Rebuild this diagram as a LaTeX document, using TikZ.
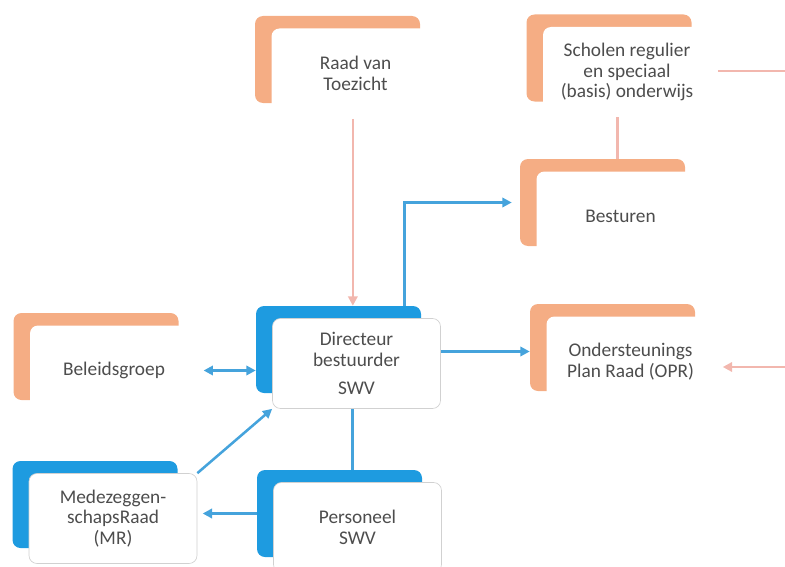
\documentclass[tikz,border=0pt]{standalone}
\usepackage{fontspec}
\setmainfont{Carlito}
\usetikzlibrary{arrows.meta}
\usetikzlibrary{calc}

\definecolor{salmon}{HTML}{F5AD84}
\definecolor{swvblue}{HTML}{1E9BE0}
\definecolor{lineblue}{HTML}{45A3DC}
\definecolor{linepink}{HTML}{F2B7AE}
\definecolor{txtgray}{HTML}{4D4D4D}

\tikzset{
  back/.style={rounded corners=6pt, minimum width=123.75pt, minimum height=65.25pt, inner sep=0pt},
  front/.style={fill=white, rounded corners=6pt, minimum width=126pt, minimum height=67.5pt,
    inner sep=2pt, align=center, text=txtgray, font=\fontsize{14.5}{15.5}\selectfont},
  oback/.style={back, fill=salmon},
  bback/.style={back, fill=swvblue},
  bfront/.style={front, draw=black!18, line width=0.5pt},
  bline/.style={draw=lineblue, line width=1.9pt},
  oline/.style={draw=linepink, line width=1.9pt},
  tip/.style={-{Triangle[length=7pt,width=7pt]}}
}

\begin{document}
\begin{tikzpicture}[x=0.75pt, y=-0.75pt]
            \useasboundingbox (0,0) rectangle (785,567);
            % back plates
            \node[oback] (raadB) at (337.5,59.5) {};
            \node[oback] (scholB) at (609,58) {};
            \node[oback] (bestB) at (602.5,202.5) {};
            \node[bback] (dirB) at (338.5,349.5) {};
            \node[oback] (belB) at (96,356.5) {};
            \node[oback] (oprB) at (612.5,347.5) {};
            \node[bback] (mrB) at (95,504.5) {};
            \node[bback] (persB) at (339.5,513.5) {};
            % text boxes
            \node[front] (raad) at (355.5,73.5) {Raad van\\ Toezicht};
            \node[front] (schol) at (627,72) {Scholen regulier\\ en speciaal\\ (basis) onderwijs};
            \node[front] (best) at (620.5,216.5) {Besturen};
            \node[bfront] (dir) at (356.5,363.5) {Directeur\\ bestuurder\\[6pt] SWV};
            \node[front] (bel) at (114,370.5) {Beleidsgroep};
            \node[front] (opr) at (630.5,361.5) {Ondersteunings\\ Plan Raad (OPR)};
            \node[bfront] (mr) at (113,518.5) {Medezeggen-\\ schapsRaad\\ (MR)};
            \node[bfront] (pers) at (357.5,527.5) {Personeel\\ SWV};
            % free ends at the right edge
            \coordinate (rightA) at (785,71);
            \coordinate (rightB) at (785,367);
            % connectors
            \draw[oline, tip] ([xshift=-2pt]raad.south) -- ([xshift=-2pt]raad.south |- dirB.north);
            \draw[oline] ([xshift=5pt]rightA -| schol.east) -- (rightA);
            \draw[oline] ([xshift=-7pt]schol.south) -- ([xshift=-7pt]schol.south |- bestB.north);
            \draw[oline, tip, shorten >=6pt] (rightB) -- (rightB -| opr.east);
            \draw[bline, tip, shorten >=6pt] ($(dirB.north west)!0.9!(dirB.north east)$) |- (bestB.west);
            \draw[bline, tip] ([yshift=9pt]dir.east) -- ([yshift=9pt]dir.east -| oprB.west);
            \draw[bline, {Triangle[length=7pt,width=7pt]}-{Triangle[length=7pt,width=7pt]}, shorten <=4pt] (bel.east) -- (bel.east -| dirB.west);
            \draw[bline, tip] (mr.north east) -- (dir.south west);
            \draw[bline] ([xshift=-3pt]dir.south) -- ([xshift=-3pt]dir.south |- persB.north);
            \draw[bline, tip, shorten >=4pt] (persB.west) -- (persB.west -| mr.east);
        \end{tikzpicture}
\end{document}
